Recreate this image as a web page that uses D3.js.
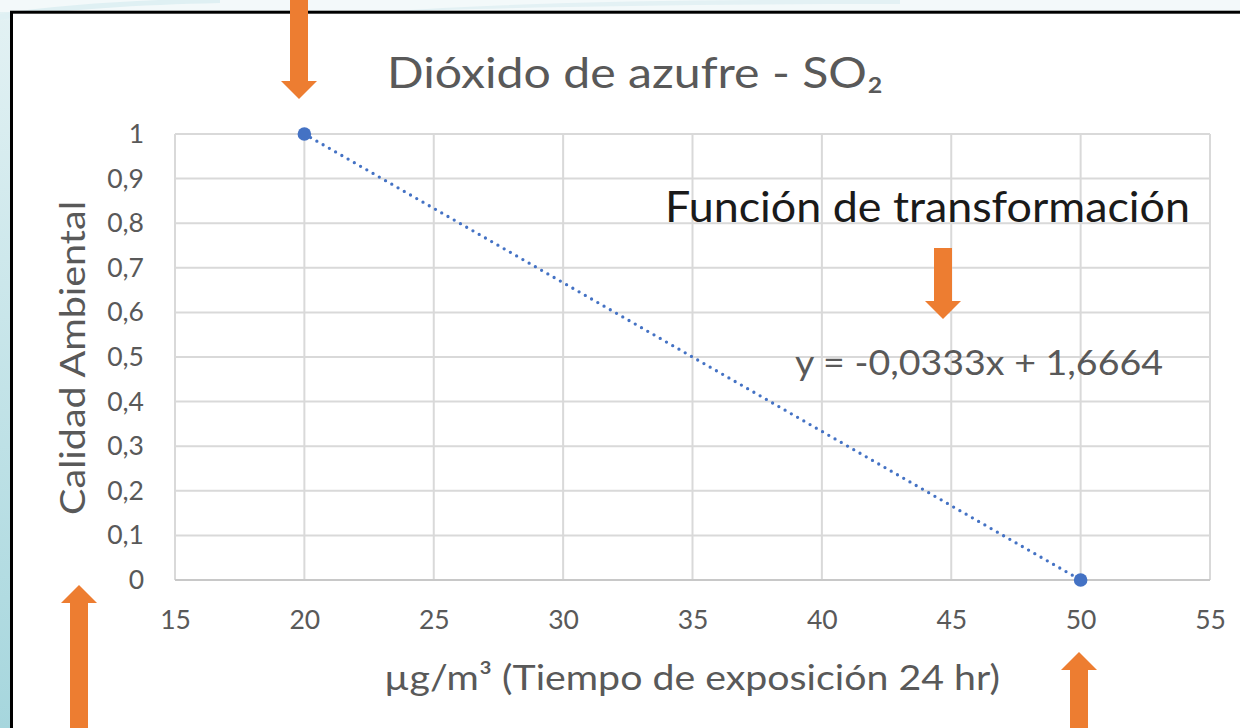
<!DOCTYPE html>
<html>
<head>
<meta charset="utf-8">
<script src="https://cdn.jsdelivr.net/npm/d3@7"></script>
<style>
html,body{margin:0;padding:0;background:#fff;}
svg{display:block;}
</style>
</head>
<body>
<svg id="chart" width="1240" height="728"></svg>
<script>
// ---- data ----
const xValues = [20, 50];
const yValues = [1, 0];
const xTicks = [15, 20, 25, 30, 35, 40, 45, 50, 55];
const yTicks = [0, 0.1, 0.2, 0.3, 0.4, 0.5, 0.6, 0.7, 0.8, 0.9, 1];
const titleText = "Dióxido de azufre - SO₂";
const xTitle = "µg/m³ (Tiempo de exposición 24 hr)";
const yTitle = "Calidad Ambiental";
const annotationText = "Función de transformación";
const equationText = "y = -0,0333x + 1,6664";
const arrowSpecs = [
  {cx: 299, tipY: 99, dir: "down", fromY: -5},
  {cx: 943, tipY: 319, dir: "down", fromY: 248},
  {cx: 79, tipY: 585, dir: "up", fromY: 735},
  {cx: 1079, tipY: 652, dir: "up", fromY: 735}
];

const svg = d3.select("#chart");
const W = 1240, H = 728;
const FONT = "Lato, 'Noto Sans', sans-serif";
const TXT = "#595959";

// background
const defs = svg.append("defs");
const lg = defs.append("linearGradient").attr("id","bgL").attr("x1",0).attr("y1",0).attr("x2",0).attr("y2",1);
lg.append("stop").attr("offset","0%").attr("stop-color","#e4f2f4");
lg.append("stop").attr("offset","100%").attr("stop-color","#a6d6dd");
svg.append("rect").attr("width",W).attr("height",H).attr("fill","url(#bgL)");
svg.append("rect").attr("x",0).attr("y",0).attr("width",W).attr("height",12).attr("fill","#f3f9fa");
svg.append("path").attr("d","M0,14 C60,4 140,0 220,-2 L220,3 C140,5 60,9 0,20 Z").attr("fill","#dff0f3");
svg.append("path").attr("d","M380,12 C520,2 700,-1 900,0 L900,4 C700,4 520,7 380,12 Z").attr("fill","#e3f1f4");

// chart box
svg.append("rect").attr("x",11.5).attr("y",12.2).attr("width",W+20).attr("height",H+20)
  .attr("fill","#fff").attr("stroke","#000").attr("stroke-width",3);

const plot = {l:175, r:1210, t:134, b:580};
const x = d3.scaleLinear().domain([15,55]).range([plot.l, plot.r]);
const y = d3.scaleLinear().domain([0,1]).range([plot.b, plot.t]);

// gridlines
const g = svg.append("g");
g.selectAll(".hg").data(yTicks.filter(d=>d>0)).join("line")
  .attr("x1",plot.l).attr("x2",plot.r).attr("y1",d=>y(d)).attr("y2",d=>y(d))
  .attr("stroke","#d9d9d9").attr("stroke-width",2);
g.selectAll(".vg").data(xTicks).join("line")
  .attr("x1",d=>x(d)).attr("x2",d=>x(d)).attr("y1",plot.t).attr("y2",plot.b)
  .attr("stroke","#d9d9d9").attr("stroke-width",2);
g.append("line").attr("x1",plot.l).attr("x2",plot.r).attr("y1",y(0)).attr("y2",y(0))
  .attr("stroke","#c8c8c8").attr("stroke-width",2);

// axes via d3 (labels only)
const fmt = d => String(d).replace(".", ",");
const xAxis = svg.append("g").attr("transform",`translate(0,${plot.b})`)
  .call(d3.axisBottom(x).tickValues(xTicks).tickSize(0).tickPadding(30).tickFormat(d=>d));
const yAxis = svg.append("g").attr("transform",`translate(${plot.l},0)`)
  .call(d3.axisLeft(y).tickValues(yTicks).tickSize(0).tickPadding(31).tickFormat(fmt));
[xAxis, yAxis].forEach(a=>{
  a.select(".domain").remove();
  a.selectAll("text").attr("fill",TXT).style("font-family",FONT).style("font-size","26.5px");
});

// trend line (dotted) between data points
const pts = xValues.map((v,i)=>[v, yValues[i]]);
svg.append("path").datum(pts)
  .attr("d", d3.line().x(d=>x(d[0])).y(d=>y(d[1])))
  .attr("fill","none").attr("stroke","#4472c4").attr("stroke-width",3.3)
  .attr("stroke-linecap","round").attr("stroke-dasharray","0 7.2");
svg.selectAll(".pt").data(pts).join("circle")
  .attr("cx",d=>x(d[0])).attr("cy",d=>y(d[1])).attr("r",6.8).attr("fill","#4472c4");

// texts
function txt(str, xx, yy, size, len, color, anchor, rot){
  const t = svg.append("text").attr("x",xx).attr("y",yy).text(str)
    .attr("fill",color).style("font-family",FONT).style("font-size",size+"px")
    .attr("text-anchor",anchor||"start");
  if(len) t.attr("textLength",len).attr("lengthAdjust","spacingAndGlyphs");
  if(rot) t.attr("transform",rot);
  return t;
}
txt(titleText, 387, 88, 43, 496, TXT, "start");
txt(xTitle, 384, 690, 35, 616, TXT, "start");
txt(yTitle, -515, 85, 35, 314, TXT, "start", "rotate(-90)");
txt(annotationText, 665, 222, 42, 525, "#1a1a1a", "start");
txt(equationText, 795, 375, 34, 368, TXT, "start");

// arrows
const ORANGE = "#ed7d31";
arrowSpecs.forEach(a=>{
  const sw = 9, hw = 18, hl = 18;
  const base = a.dir==="down" ? a.tipY - hl : a.tipY + hl;
  const p = [[a.cx-sw,a.fromY],[a.cx+sw,a.fromY],[a.cx+sw,base],[a.cx+hw,base],[a.cx,a.tipY],[a.cx-hw,base],[a.cx-sw,base]];
  svg.append("path").attr("d", d3.line()(p)+"Z").attr("fill",ORANGE);
});
</script>
</body>
</html>
